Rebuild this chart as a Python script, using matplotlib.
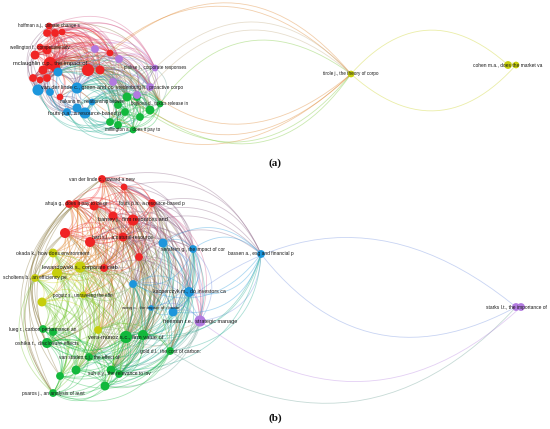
import numpy as np
import matplotlib
matplotlib.use("Agg")
import matplotlib.pyplot as plt
from matplotlib.collections import LineCollection
from matplotlib.colors import to_rgb

# ---------------- data: panel (a) ----------------
a_labels = [
    "hoffman a.j., climate change s", "", "", "", "wellington f., competitive adv",
    "", "", "mclaughlin c.p., the impact of", "", "", "", "", "", "", "", "", "",
    "van der linde c., green and co", "", "", "", "fouts p.a., a resource-based p",
    "", "", "nakano m., relationship betwee",
    "", "", "", "bojilova d., toxics release in", "", "", "millington a., does it pay to",
    "", "", "",
    "", "", "pinkse j., corporate responses", "", "vredenburg h., proactive corpo", "",
    "tirole j., the theory of corpo", "cohen m.a., does the market va", "",
]
a_x = [49, 47, 55, 62, 40, 35, 47, 50, 55, 43, 33, 47, 88, 100, 110, 60, 40,
       77, 38, 58, 50, 85, 67, 77, 92,
       127, 118, 137, 160, 110, 118, 133, 150, 140, 125,
       95, 119, 155, 113, 150, 137,
       351, 508, 516]
a_y = [26, 33, 33, 32, 47, 55, 50, 63, 67, 70, 78, 78, 70, 70, 53, 97, 80,
       88, 90, 72, 92, 113, 112, 108, 102,
       97, 105, 97, 104, 122, 125, 130, 110, 117, 112,
       49, 59, 68, 82, 87, 95,
       74, 65, 65]
a_weight = [3, 4, 4, 3, 3, 5, 5, 8, 6, 5, 4, 4, 8, 5, 3, 3, 3,
            7, 7, 5, 4, 7, 4, 5, 3,
            5, 4, 4, 3, 4, 4, 3, 5, 4, 4,
            4, 4, 3, 4, 4, 4,
            3, 4, 3]
a_cluster = "RRRRRRRRRRRRRRRRR" + "BBBBBBBB" + "GGGGGGGGGG" + "PPPPPP" + "YYY"
a_links = {
    0: [1, 2, 3, 5, 6, 7, 8, 12, 13, 14, 36, 35, 4, 9, 10, 17, 18, 19, 25, 28, 37],
    1: [2, 5, 6, 7, 9, 12, 19, 3, 8, 13, 14, 36, 17],
    2: [3, 6, 7, 8, 12, 13, 14, 35, 4, 5, 9, 19, 36, 37],
    3: [7, 12, 13, 14, 36, 35, 6, 8, 37, 38],
    4: [5, 6, 7, 9, 10, 12, 8, 11, 13, 14, 16, 19],
    5: [6, 7, 9, 10, 11, 16, 12, 8, 13, 14, 19, 25],
    6: [7, 8, 12, 13, 19, 25, 35, 9, 10, 11, 14, 17, 36, 37, 28],
    7: [8, 9, 10, 11, 12, 13, 14, 17, 19, 25, 28, 29, 36, 38, 15, 16, 26, 30, 32, 35, 37, 39],
    8: [9, 11, 12, 13, 17, 19, 25, 30, 39, 32, 10, 14, 15, 16, 26, 28, 35, 36, 37],
    9: [10, 11, 16, 12, 13, 14, 17, 19, 25, 28],
    10: [11, 16, 12, 13, 17, 19],
    11: [12, 15, 26, 13, 16, 17, 19, 25],
    12: [13, 14, 17, 19, 25, 26, 28, 31, 35, 36, 37, 38, 39, 41, 27, 29, 30, 32, 33, 34, 40],
    13: [14, 25, 28, 32, 36, 37, 38, 26, 27, 29, 33, 35, 39, 40],
    14: [35, 36, 37, 39, 28, 41, 25, 27, 38, 40],
    15: [17, 20, 21, 22, 23, 24, 26],
    16: [17],
    17: [19, 25, 26, 27, 28, 29, 30, 31, 33, 34, 38, 40, 32, 35, 36, 37, 39],
    18: [0, 1, 2, 5, 7, 9, 10, 16, 19, 20],
    19: [25, 26, 28, 29, 30, 32, 38, 39],
    20: [0, 5, 7, 9, 10, 11, 16, 19],
    21: [7, 8, 11, 12, 17, 19, 20, 25, 26, 27, 28, 32, 40, 9, 13, 10],
    22: [7, 9, 11, 15, 16, 17, 20, 21],
    23: [8, 11, 12, 17, 19, 20, 21, 22, 25, 26, 34],
    24: [17, 21, 23, 26, 34],
    25: [26, 27, 28, 29, 30, 31, 32, 33, 34, 38, 39, 40, 35, 36, 37],
    26: [27, 28, 29, 30, 31, 33, 34, 32, 38, 39, 40],
    27: [28, 31, 32, 33, 34, 39, 40, 29, 30, 37, 38],
    28: [29, 30, 31, 32, 33, 34, 37, 39, 40, 41],
    29: [18, 20, 22, 23, 30, 31, 32, 33, 34],
    30: [18, 21, 22, 31, 32, 33, 34],
    31: [21, 22, 23, 32, 33, 34],
    32: [33, 34, 37, 39, 40],
    33: [21, 24, 34, 40],
    34: [21, 23],
    35: [36, 37, 38],
    36: [37, 38, 39, 40],
    37: [38, 39, 40, 28, 41],
    38: [39, 40, 25],
    39: [40, 32, 41],
    41: [14, 13, 8, 25, 32, 42],
    42: [43],
    43: [41],
}

# ---------------- data: panel (b) ----------------
b_labels = [
    "van der linde c., toward a new", "", "ahuja g., does it pay to be gr", "", "",
    "fouts p.a., a resource-based p", "", "barney j., firm resources and", "", "",
    "hart s.l., a natural-resource-", "", "",
    "", "serafeim g., the impact of cor", "bassen a., esg and financial p", "",
    "kacperczyk m., do investors ca", "",
    "freeman r.e., strategic manage", "starks l.t., the importance of", "",
    "okada k., how does environment", "lewandowski s., corporate carb", "",
    "scholtens b., an efficiency pe", "", "pogutz s., unraveling the effe", "",
    "vera-munoz s.c., firm value of", "", "lueg r., carbon performance an", "",
    "oshika t., disclosure effects", "gold d.l., the cost of carbon:",
    "van staden c.j., the effect of", "", "", "", "suh e.y., the relevance to inv", "",
    "psaros j., an analysis of aust", "wong c., the impact of climate",
]
b_x = [102, 124, 76, 69, 94, 152, 113, 133, 65, 90, 123, 139, 104,
       163, 193, 261, 133, 189, 173,
       200, 516, 521,
       53, 80, 57, 35, 42, 83, 98,
       126, 143, 43, 53, 47, 170, 89, 76, 60, 111, 119, 105, 53,
       151]
b_y = [179, 187, 204, 204, 206, 203, 216, 220, 233, 242, 237, 257, 268,
       243, 249, 254, 284, 292, 312,
       321, 307, 307,
       253, 267, 273, 278, 302, 295, 330,
       337, 335, 329, 332, 343, 351, 357, 370, 376, 370, 374, 386, 393,
       308]
b_weight = [4, 3, 4, 4, 5, 4, 5, 7, 6, 6, 5, 4, 4,
            5, 4, 4, 4, 6, 5,
            7, 4, 4,
            5, 7, 6, 4, 5, 3, 4,
            8, 6, 4, 4, 6, 4, 4, 5, 4, 5, 4, 5, 4,
            2]
b_cluster = "RRRRRRRRRRRRR" + "BBBBBB" + "PPP" + "YYYYYYY" + "GGGGGGGGGGGGG" + "B"
b_links = {
    0: [1, 2, 3, 4, 5, 6, 7, 8, 9, 10, 11, 12, 15, 23, 29, 13, 14, 16, 17, 19, 22, 24, 27, 30, 34, 38],
    1: [3, 4, 5, 6, 7, 10, 11, 13, 14, 15, 29, 8, 9, 12, 16, 17, 19, 23, 30, 34],
    2: [3, 4, 6, 7, 8, 9, 22, 23, 25, 10, 11, 12, 24, 26, 27, 29],
    3: [4, 5, 6, 7, 8, 9, 10, 12, 23, 24, 29, 11, 22, 25, 27, 28],
    4: [5, 6, 7, 8, 9, 10, 11, 12, 23, 27, 29, 35, 13, 14, 16, 17, 24, 25, 30, 33, 38],
    5: [6, 7, 10, 11, 13, 14, 15, 17, 19, 29, 34, 8, 9, 12, 16, 18, 23, 30, 38, 42],
    6: [7, 8, 9, 10, 11, 12, 23, 29, 30, 13, 14, 16, 17, 24, 27, 33, 35, 38],
    7: [8, 9, 10, 11, 12, 13, 14, 15, 16, 17, 19, 23, 29, 30, 33, 34, 38, 18, 22, 24, 27, 28, 35, 39, 42],
    8: [9, 10, 12, 22, 23, 24, 25, 26, 11, 27, 28, 29, 35, 36],
    9: [10, 11, 12, 23, 24, 27, 29, 35, 36, 13, 14, 16, 17, 28, 30, 38],
    10: [11, 12, 13, 14, 15, 16, 17, 23, 29, 30, 34, 39, 18, 19, 24, 27, 28, 33, 35, 38, 42],
    11: [12, 13, 14, 16, 17, 18, 29, 30, 34, 15, 19, 23, 27, 28, 35, 38, 39, 42],
    12: [16, 23, 27, 28, 29, 33, 35, 13, 14, 17, 18, 24, 30, 34, 36, 38],
    13: [14, 15, 16, 17, 18, 19, 29, 30, 34, 42, 23, 27, 28, 35, 38, 39],
    14: [15, 16, 17, 18, 19, 29, 30, 34, 38, 28, 35, 39, 42],
    15: [16, 17, 19, 29, 34, 18, 30, 38],
    16: [17, 18, 27, 28, 29, 30, 35, 38, 19, 34, 36, 39, 40, 42],
    17: [18, 19, 29, 30, 34, 42, 39, 28, 35, 38, 40],
    18: [19, 29, 30, 34, 38, 42, 20],
    19: [29, 30, 34, 38, 39, 35, 40, 28, 27],
    20: [15, 34, 21],
    21: [19],
    22: [23, 24, 25, 26, 31, 33, 27, 29, 32, 35, 36, 37],
    23: [24, 25, 26, 27, 28, 29, 31, 33, 35, 36, 30, 32, 34, 37, 38, 39, 40, 41],
    24: [25, 26, 27, 31, 32, 33, 37, 28, 29, 35, 36, 41],
    25: [26, 31, 33, 41, 27, 32, 36, 37],
    26: [27, 31, 32, 33, 36, 37, 41, 28, 29, 35, 40],
    27: [28, 29, 31, 33, 35, 38, 30, 36, 37, 39, 40],
    28: [29, 30, 35, 38, 39, 31, 33, 34, 36, 40],
    29: [30, 31, 32, 33, 34, 35, 36, 37, 38, 39, 40, 41],
    30: [34, 35, 38, 39, 40, 31, 33, 36, 37, 41],
    31: [2, 8, 32, 33, 35, 36, 37, 41],
    32: [33, 36, 37, 35, 40],
    33: [0, 2, 8, 35, 36, 37, 38, 40, 41, 39],
    34: [35, 38, 39, 40, 41, 36, 37],
    35: [36, 37, 38, 39, 40, 41],
    36: [37, 38, 40, 41],
    37: [0, 3, 40, 41],
    38: [39, 40, 41],
    39: [40, 41],
    40: [41],
    41: [0, 2, 3, 8, 22, 25],
    42: [29, 30, 19],
}

panel_captions = ["(a)", "(b)"]
caption_x = [275, 275]
caption_y = [163, 418]

# ---------------- style ----------------
COLORS = {"R": "#f02424", "G": "#12b83c", "B": "#1c96dc", "Y": "#c6ce0c", "P": "#b27ae0"}
LABEL_FONTS = ["Liberation Sans Narrow", "Liberation Sans", "DejaVu Sans"]


def draw_network(ax, labels, xs, ys, weights, clusters, links, curve):
    pos = np.column_stack([xs, ys]).astype(float)
    cols = [np.array(to_rgb(COLORS[c])) for c in clusters]
    segs, ecols = [], []
    t = np.linspace(0, 1, 30)[:, None]
    for s, targets in links.items():
        for tg in targets:
            p0, p1 = pos[s], pos[tg]
            d = p1 - p0
            n = np.array([d[1], -d[0]])
            c = (p0 + p1) / 2 + curve * n
            pts = (1 - t) ** 2 * p0 + 2 * (1 - t) * t * c + t ** 2 * p1
            segs.append(pts)
            mix = (cols[s] + cols[tg]) / 2
            ecols.append((*mix, 0.36))
    lc = LineCollection(segs, colors=ecols, linewidths=0.6, zorder=1,
                        capstyle="round")
    ax.add_collection(lc)
    w = np.array(weights, float)
    diam_px = 3.4 + 1.1 * w
    ax.scatter(pos[:, 0], pos[:, 1], s=(diam_px * 0.72) ** 2,
               c=[COLORS[c] for c in clusters], edgecolors="none", zorder=3)
    for lab, (x, y), wt in zip(labels, pos, weights):
        if lab:
            ax.text(x, y, lab, ha="center", va="center", color="#1a1a1a",
                    fontsize=2.85 + 0.16 * wt, family=LABEL_FONTS, zorder=4)


fig = plt.figure(figsize=(5.5, 4.29), dpi=100)
ax = fig.add_axes([0, 0, 1, 1])
ax.set_xlim(0, 550)
ax.set_ylim(429, 0)
ax.axis("off")

draw_network(ax, a_labels, a_x, a_y, a_weight, a_cluster, a_links, 0.5)
draw_network(ax, b_labels, b_x, b_y, b_weight, b_cluster, b_links, 0.42)

for cap, cx, cy in zip(panel_captions, caption_x, caption_y):
    ax.text(cx, cy, cap, ha="center", va="center", fontsize=8, fontweight="bold",
            family=["Liberation Serif", "DejaVu Serif"], color="#111111")

fig.savefig("out.png", dpi=100, facecolor="white")
